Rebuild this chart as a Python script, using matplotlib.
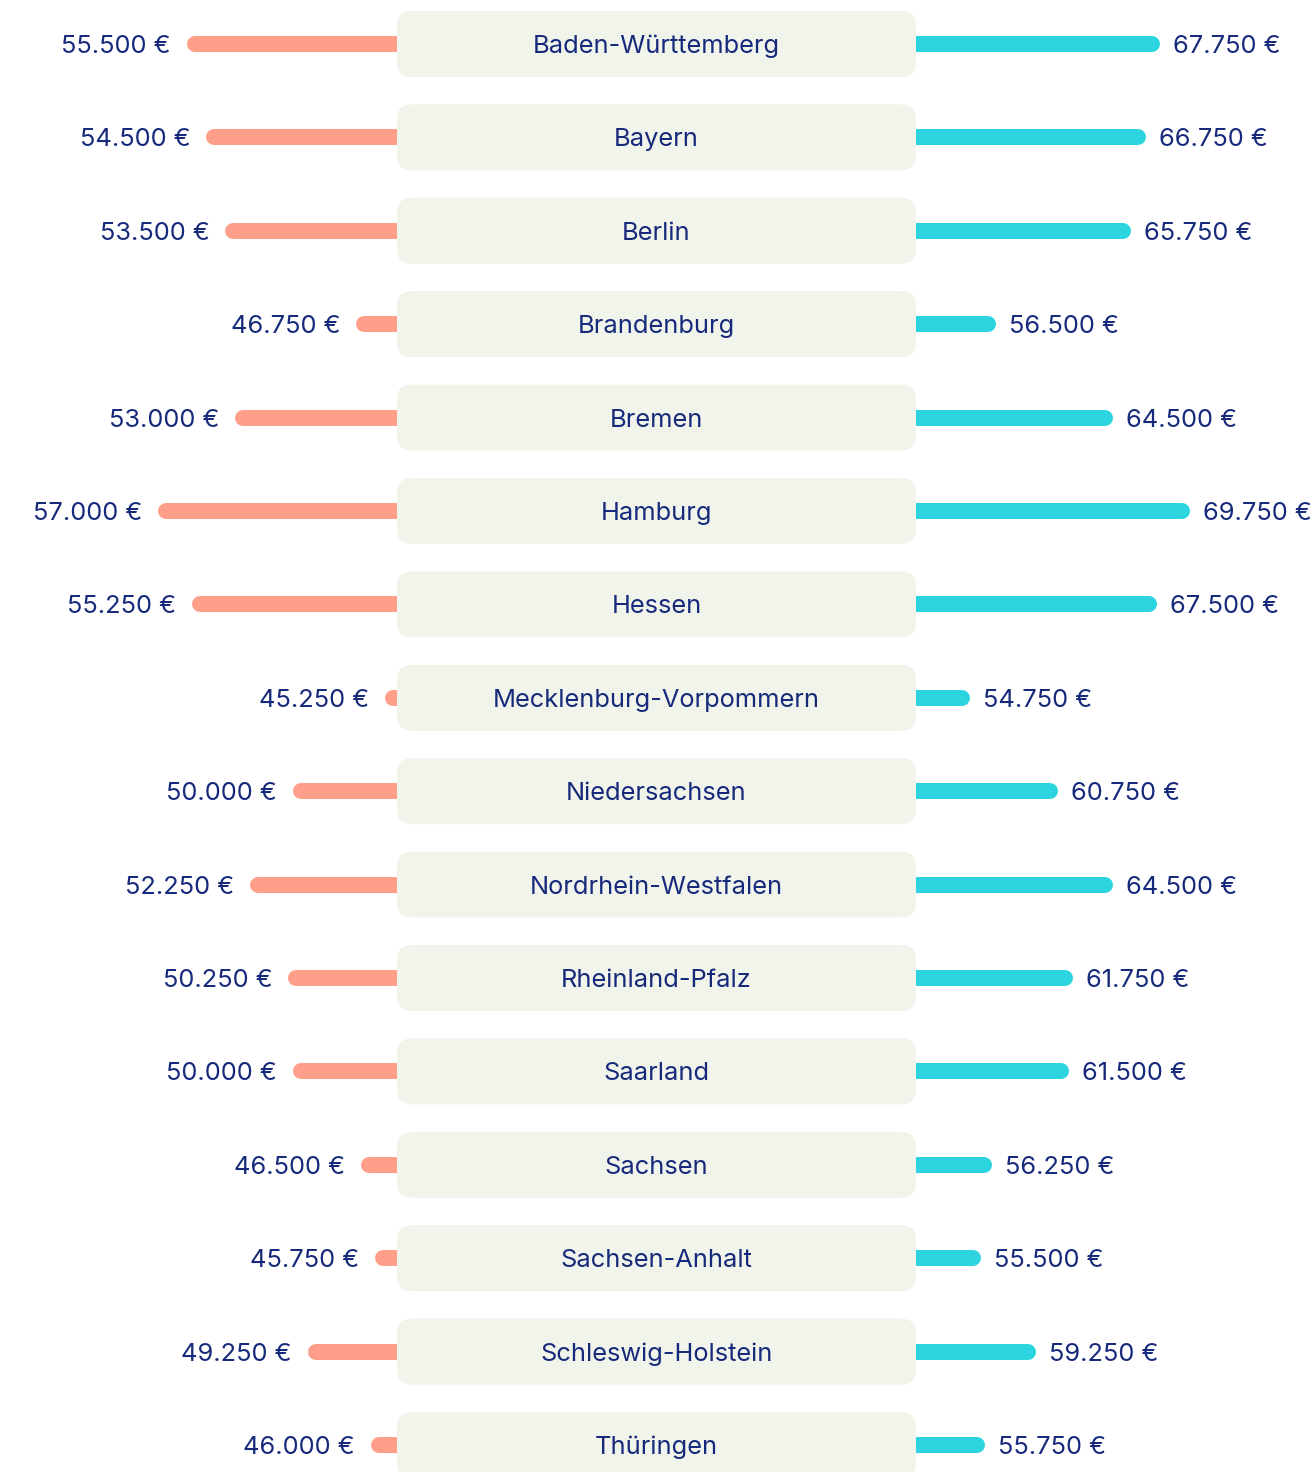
import matplotlib.pyplot as plt
from matplotlib.patches import FancyBboxPatch

plt.rcParams['font.family'] = ['Inter', 'DejaVu Sans']

# Data
states = ['Baden-Württemberg', 'Bayern', 'Berlin', 'Brandenburg', 'Bremen', 'Hamburg',
          'Hessen', 'Mecklenburg-Vorpommern', 'Niedersachsen', 'Nordrhein-Westfalen',
          'Rheinland-Pfalz', 'Saarland', 'Sachsen', 'Sachsen-Anhalt',
          'Schleswig-Holstein', 'Thüringen']
left_values = [55500, 54500, 53500, 46750, 53000, 57000, 55250, 45250, 50000, 52250,
               50250, 50000, 46500, 45750, 49250, 46000]
right_values = [67750, 66750, 65750, 56500, 64500, 69750, 67500, 54750, 60750, 64500,
                61750, 61500, 56250, 55500, 59250, 55750]

def euro(v):
    return f"{v:,.0f}".replace(',', '.') + ' €'

W, H, DPI = 1312, 1472, 100
fig = plt.figure(figsize=(W / DPI, H / DPI), dpi=DPI)

TEXT = '#16297a'
SALMON = '#ff9f8a'
CYAN = '#2bd4df'
BOX = '#f1f4eb'
FS = 18.3

row_px = 93.4
first_px = 44
ylim = ((H - first_px) / row_px, -first_px / row_px)

box_l, box_r = 397, 916

# left axes (values grow to the left)
axl = fig.add_axes([0, 0, (box_l + 40) / W, 1])
axl.set_xlim(65570, 42980)
# right axes
axr = fig.add_axes([(box_r - 40) / W, 0, 1 - (box_r - 40) / W, 1])
axr.set_xlim(48840, 78670)
# centre axes with the boxes
axc = fig.add_axes([box_l / W, 0, (box_r - box_l) / W, 1])
axc.set_xlim(0, box_r - box_l)

for ax in (axl, axr, axc):
    ax.set_ylim(*ylim)
    ax.axis('off')
    ax.patch.set_alpha(0)

lw = 16 * 72 / DPI
for i, (lv, rv) in enumerate(zip(left_values, right_values)):
    axl.plot([lv, axl.get_xlim()[1]], [i, i], color=SALMON, lw=lw, solid_capstyle='round')
    axl.annotate(euro(lv), (lv, i), xytext=(-24, 0), textcoords='offset pixels',
                 ha='right', va='center_baseline', fontsize=FS, color=TEXT)
    axr.plot([axr.get_xlim()[0], rv], [i, i], color=CYAN, lw=lw, solid_capstyle='round')
    axr.annotate(euro(rv), (rv, i), xytext=(21, 0), textcoords='offset pixels',
                 ha='left', va='center_baseline', fontsize=FS, color=TEXT)

bh = 66 / row_px
for i, name in enumerate(states):
    axc.add_patch(FancyBboxPatch((0, i - bh / 2), box_r - box_l, bh,
                                 boxstyle='round,pad=0,rounding_size=15',
                                 mutation_aspect=1 / row_px,
                                 facecolor=BOX, edgecolor='none'))
    axc.text((box_r - box_l) / 2, i, name, ha='center', va='center_baseline',
             fontsize=FS, color=TEXT)

fig.savefig('out.png', dpi=DPI)
